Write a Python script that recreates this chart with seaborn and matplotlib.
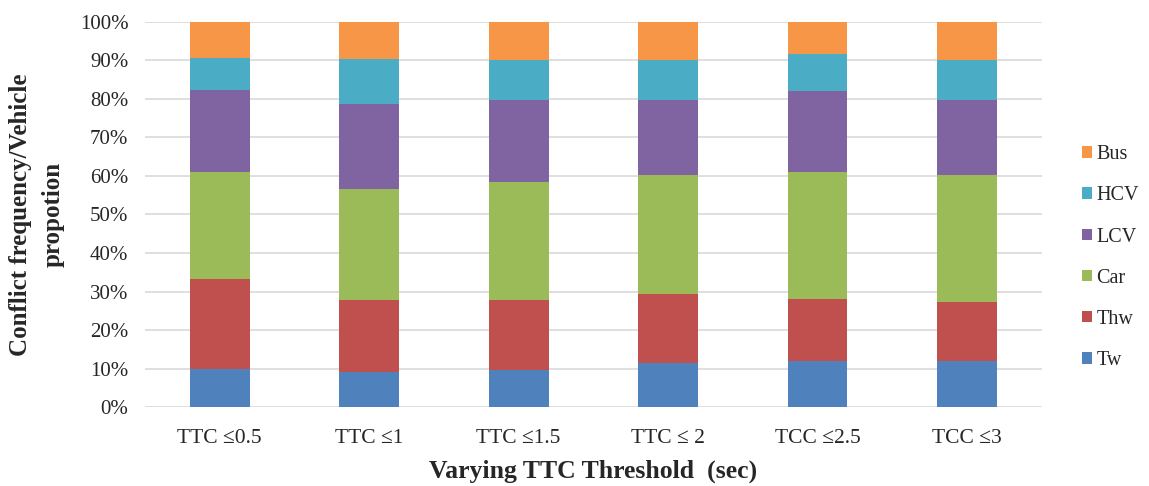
import numpy as np
import pandas as pd
import matplotlib
matplotlib.use("Agg")
import matplotlib.pyplot as plt
from matplotlib.patches import Patch
from matplotlib.ticker import PercentFormatter
import seaborn as sns

# TTC thresholds and share (%) of conflicts per vehicle class
categories = ["TTC \u22640.5", "TTC \u22641", "TTC \u22641.5", "TTC \u2264 2", "TCC \u22642.5", "TCC \u22643"]
tw = [10.0, 9.1, 9.6, 11.5, 12.1, 11.9]
thw = [23.2, 18.6, 18.1, 17.9, 16.0, 15.5]
car = [27.7, 29.0, 30.6, 30.9, 33.0, 32.9]
lcv = [21.4, 22.0, 21.4, 19.4, 20.8, 19.4]
hcv = [8.2, 11.5, 10.4, 10.4, 9.6, 10.4]
bus = [9.5, 9.8, 9.9, 9.9, 8.5, 9.9]

series = [
    ("Tw", tw, "#4F81BD"),
    ("Thw", thw, "#C0504D"),
    ("Car", car, "#9BBB59"),
    ("LCV", lcv, "#8064A2"),
    ("HCV", hcv, "#4BACC6"),
    ("Bus", bus, "#F79646"),
]

sns.set_style("white")
plt.rcParams["font.family"] = ["Liberation Serif", "DejaVu Serif"]

fig = plt.figure(figsize=(11.49, 4.86), dpi=100)
ax = fig.add_axes([0.1262, 0.162, 0.7804, 0.7935])

bottom = np.zeros(len(categories))
for name, vals, color in series:
    df = pd.DataFrame({"cat": categories, "val": vals})
    sns.barplot(data=df, x="cat", y="val", color=color, width=0.4,
                bottom=bottom.copy(), ax=ax, saturation=1, zorder=3,
                linewidth=0, errorbar=None)
    bottom += np.array(vals)

ax.set_ylim(0, 100)
ax.set_xlim(-0.5, len(categories) - 0.5)
ax.set_yticks(np.arange(0, 101, 10))
ax.yaxis.set_major_formatter(PercentFormatter(decimals=0))
ax.grid(axis="y", color="#D9D9D9", linewidth=1.2, zorder=0)
ax.set_axisbelow(True)
for s in ax.spines.values():
    s.set_visible(False)
ax.tick_params(axis="y", length=0, pad=12, labelsize=15, labelcolor="#262626")
ax.tick_params(axis="x", length=0, pad=16, labelsize=15.5, labelcolor="#262626")

ax.set_xlabel("Varying TTC Threshold  (sec)", fontsize=18.5, fontweight="bold", labelpad=8)
ax.set_ylabel("Conflict frequency/Vehicle\npropotion", fontsize=18, fontweight="bold",
              labelpad=11, linespacing=1.55)

handles = [Patch(facecolor=c, edgecolor="none", label=n) for n, _, c in reversed(series)]
fig.legend(handles=handles, loc="center left", bbox_to_anchor=(0.926, 0.47),
           frameon=False, fontsize=14.5, handlelength=0.5, handleheight=0.5,
           handletextpad=0.2, labelspacing=1.1, borderpad=0.4)

fig.savefig("out.png", dpi=100)
